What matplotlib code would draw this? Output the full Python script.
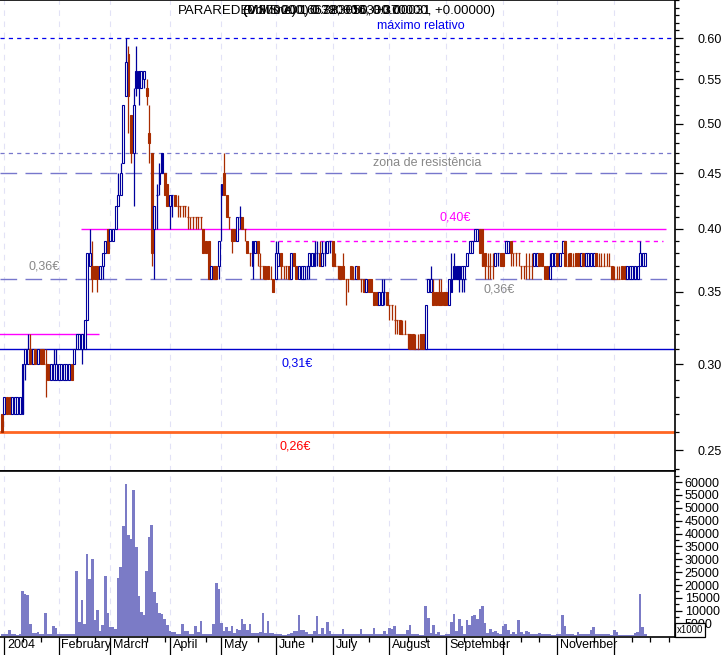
import numpy as np
import matplotlib
matplotlib.use('Agg')
import matplotlib.pyplot as plt
import matplotlib.transforms as mtransforms
from matplotlib.ticker import FixedLocator, NullFormatter

plt.rcParams['font.family'] = ['Liberation Sans', 'DejaVu Sans']
plt.rcParams['lines.scale_dashes'] = False

# daily candles (euro cents), 31 Dec 2003 .. mid Dec 2004
opens = [27, 27, 28, 28, 27, 27, 27, 27, 27, 30, 30, 31, 30, 31, 30, 31, 31, 30, 30, 29,
         29, 29, 29, 29, 29, 29, 29, 30, 30, 31, 31, 31, 31, 33, 37, 37, 37, 37, 36, 37,
         38, 40, 39, 39, 40, 42, 43, 46, 53, 58, 51, 47, 56, 56, 54, 55, 54, 49, 47, 40,
         43, 44, 47, 45, 44, 42, 43, 43, 42, 42, 42, 42, 41, 41, 41, 41, 41, 41, 40, 39,
         39, 36, 37, 37, 37, 43, 45, 43, 41, 40, 40, 39, 41, 41, 40, 39, 38, 37, 38, 39,
         37, 37, 37, 37, 36, 36, 36, 37, 38, 37, 37, 37, 36, 38, 37, 36, 36, 36, 37, 37,
         37, 37, 38, 38, 37, 38, 38, 39, 39, 37, 37, 37, 37, 36, 36, 37, 36, 36, 37, 36,
         36, 35, 36, 36, 35, 35, 34, 34, 35, 35, 34, 34, 33, 33, 33, 32, 32, 32, 32, 32,
         31, 31, 32, 32, 31, 35, 35, 35, 35, 35, 35, 35, 35, 34, 35, 37, 37, 37, 36, 36,
         37, 38, 38, 39, 39, 40, 40, 38, 37, 37, 37, 37, 38, 38, 38, 38, 38, 39, 38, 38,
         38, 37, 37, 37, 37, 37, 37, 37, 38, 38, 37, 37, 36, 37, 37, 38, 37, 38, 39, 37,
         38, 37, 38, 38, 37, 38, 37, 37, 37, 37, 38, 37, 37, 37, 37, 37, 37, 36, 36, 36,
         37, 37, 36, 36, 36, 36, 36, 37, 37, 37]
highs = [27, 28, 28, 28, 28, 28, 28, 28, 30, 31, 32, 32, 31, 31, 31, 31, 31, 31, 30, 30,
         31, 31, 30, 30, 30, 30, 30, 30, 31, 32, 32, 32, 33, 38, 40, 39, 37, 37, 37, 38,
         39, 40, 40, 40, 42, 45, 46, 52, 60, 59, 51, 54, 59, 56, 56, 56, 55, 52, 47, 42,
         44, 46, 47, 45, 44, 43, 43, 43, 43, 42, 42, 42, 42, 41, 41, 41, 41, 41, 40, 39,
         39, 37, 37, 37, 39, 44, 47, 43, 41, 40, 40, 41, 42, 41, 40, 39, 38, 39, 39, 39,
         38, 37, 37, 37, 37, 36, 39, 39, 38, 37, 37, 37, 38, 38, 37, 37, 37, 37, 37, 38,
         38, 39, 39, 39, 39, 39, 39, 39, 39, 38, 37, 37, 38, 36, 36, 37, 37, 37, 37, 36,
         36, 36, 36, 36, 35, 35, 35, 36, 36, 35, 34, 34, 34, 33, 33, 33, 33, 32, 32, 32,
         32, 32, 32, 32, 34, 36, 37, 36, 35, 36, 36, 35, 35, 36, 38, 38, 37, 37, 37, 37,
         38, 39, 39, 40, 40, 40, 40, 38, 38, 38, 38, 38, 38, 38, 38, 39, 39, 39, 38, 38,
         38, 37, 37, 38, 38, 38, 38, 38, 38, 38, 37, 37, 38, 38, 38, 38, 38, 39, 39, 38,
         38, 38, 38, 38, 38, 38, 38, 38, 38, 38, 38, 38, 38, 38, 38, 38, 37, 37, 37, 37,
         37, 37, 37, 37, 37, 37, 37, 39, 38, 38]
lows = [26, 27, 27, 27, 27, 27, 27, 27, 27, 29, 30, 30, 30, 30, 30, 30, 30, 28, 29, 29,
        29, 29, 29, 29, 29, 29, 29, 29, 30, 31, 31, 30, 31, 33, 37, 35, 36, 35, 36, 36,
        38, 38, 39, 39, 40, 42, 43, 46, 53, 49, 46, 42, 53, 52, 54, 54, 52, 46, 37, 36,
        40, 43, 45, 43, 42, 40, 41, 42, 41, 41, 41, 41, 40, 40, 40, 40, 40, 40, 38, 38,
        36, 36, 36, 36, 36, 39, 43, 41, 40, 38, 39, 39, 40, 40, 39, 38, 37, 36, 38, 37,
        36, 36, 36, 36, 36, 35, 36, 37, 36, 36, 36, 36, 36, 37, 36, 36, 36, 36, 36, 36,
        37, 37, 37, 37, 37, 37, 38, 38, 37, 37, 36, 36, 36, 34, 35, 36, 36, 36, 36, 35,
        35, 35, 35, 35, 34, 34, 34, 34, 34, 34, 33, 33, 32, 32, 32, 32, 32, 31, 31, 31,
        31, 31, 31, 31, 31, 35, 35, 34, 34, 34, 34, 34, 34, 34, 35, 36, 36, 35, 35, 35,
        37, 38, 38, 39, 39, 38, 37, 36, 36, 36, 36, 37, 37, 37, 37, 38, 38, 37, 37, 37,
        37, 36, 36, 36, 36, 36, 37, 37, 37, 37, 36, 36, 36, 37, 37, 37, 37, 38, 37, 37,
        37, 37, 37, 37, 37, 37, 37, 37, 37, 37, 37, 37, 37, 37, 37, 37, 36, 36, 36, 36,
        36, 36, 36, 36, 36, 36, 36, 37, 37, 37]
closes = [26, 28, 27, 27, 28, 28, 28, 28, 30, 31, 31, 30, 31, 30, 31, 30, 30, 30, 29, 30,
          30, 30, 30, 30, 30, 30, 30, 29, 31, 32, 32, 32, 33, 38, 38, 36, 36, 36, 37, 38,
          39, 38, 40, 40, 42, 43, 45, 52, 57, 53, 47, 52, 54, 54, 56, 56, 53, 48, 38, 42,
          43, 45, 45, 43, 42, 43, 43, 42, 42, 42, 42, 42, 41, 41, 41, 41, 41, 41, 38, 38,
          36, 37, 36, 36, 39, 44, 43, 41, 41, 39, 39, 41, 41, 40, 40, 38, 38, 39, 39, 38,
          37, 37, 36, 36, 36, 35, 38, 38, 37, 37, 37, 36, 38, 37, 36, 37, 37, 37, 37, 38,
          38, 38, 38, 37, 38, 38, 39, 39, 37, 37, 37, 36, 36, 36, 36, 36, 36, 37, 36, 36,
          35, 36, 35, 35, 34, 34, 35, 35, 35, 34, 34, 34, 33, 33, 32, 32, 32, 32, 31, 31,
          31, 31, 31, 31, 34, 36, 36, 34, 34, 34, 34, 34, 34, 36, 36, 36, 36, 36, 37, 37,
          38, 39, 39, 40, 40, 38, 37, 37, 37, 37, 37, 38, 38, 37, 37, 39, 39, 38, 38, 38,
          38, 37, 37, 37, 37, 37, 38, 38, 37, 37, 36, 36, 37, 38, 38, 37, 38, 39, 37, 37,
          37, 37, 37, 37, 38, 37, 38, 38, 38, 38, 37, 37, 37, 37, 37, 37, 36, 36, 36, 36,
          36, 36, 37, 37, 37, 37, 37, 38, 38, 38]
# volume in x1000 units
volumes = [1000, 1000, 800, 2600, 800, 1000, 600, 900, 17600, 16700, 16100, 4700, 1300, 1500, 1700,
           1000, 900, 9100, 1000, 800, 3900, 3400, 1000, 800, 800, 800, 800, 800, 800, 25500,
           5500, 14300, 4700, 31900, 22500, 30300, 6500, 10400, 2300, 4300, 23400, 9200, 3600, 3600, 3000,
           22800, 27000, 43000, 59200, 39500, 37800, 57000, 34600, 15600, 9500, 8200, 25500, 38800, 43200, 17400,
           13000, 9100, 8900, 6900, 4300, 2300, 1700, 1700, 800, 800, 4700, 2300, 2300, 1000, 1000,
           3900, 1700, 6000, 1000, 1000, 1000, 1000, 4900, 20600, 18600, 5200, 2300, 3600, 2300, 3900,
           1300, 3000, 2600, 6900, 4900, 2600, 4700, 1300, 1300, 1300, 1700, 9200, 1300, 6200, 1300,
           1300, 800, 800, 800, 600, 600, 800, 1300, 2000, 2300, 8200, 2600, 2600, 1700, 800,
           800, 2300, 8000, 800, 3400, 800, 5500, 2300, 1000, 1000, 1000, 1000, 3000, 1000, 800,
           1000, 1000, 1000, 1000, 3000, 1000, 1000, 1000, 1000, 3400, 1000, 1000, 1000, 2300, 800,
           3400, 3000, 3900, 800, 800, 800, 800, 2600, 4300, 1000, 1000, 1000, 400, 400, 11700,
           7300, 1300, 4300, 800, 1700, 400, 400, 800, 800, 5600, 8600, 2300, 6900, 3900, 1000,
           6500, 4300, 7900, 8200, 6900, 10800, 11700, 5200, 1300, 3000, 1700, 2100, 1300, 1000, 3900,
           4900, 2600, 1000, 1700, 1000, 6500, 1700, 1000, 2100, 1700, 1000, 1000, 1000, 1300, 1000,
           1000, 1000, 1000, 400, 400, 800, 800, 8500, 4200, 800, 800, 800, 400, 1700, 1000,
           1000, 800, 800, 2600, 3600, 800, 800, 800, 800, 800, 800, 600, 2700, 1700, 600,
           600, 600, 600, 600, 600, 1400, 1700, 16700, 3600, 800]

# first trading day of each month (index into the arrays above)
month_starts = [1, 22, 42, 65, 85, 106, 128, 150, 172, 194, 215, 237]
month_labels = ['2004', 'February', 'March', 'April', 'May', 'June', 'July',
                'August', 'September', '', 'November', '']

price_ticks = [0.25, 0.30, 0.35, 0.40, 0.45, 0.50, 0.55, 0.60]
vol_ticks = list(range(5000, 60001, 5000))

BLUE = '#00009c'
BROWN = '#a82c00'
GRID = '#e2e2f6'
LAV = '#7777cc'

W, H = 724, 655
fig = plt.figure(figsize=(W / 100, H / 100), dpi=100)
ax = fig.add_axes([0, 1 - 471 / H, 675 / W, 471 / H])
axv = fig.add_axes([0, 1 - 637 / H, 675 / W, 166 / H], sharex=ax)

o = np.array(opens) / 100
hi = np.array(highs) / 100
lo = np.array(lows) / 100
c = np.array(closes) / 100
x = np.arange(len(o))

# colour: compared with previous close (equal keeps previous colour)
up = np.zeros(len(c), bool)
up[0] = c[0] >= o[0]
for k in range(1, len(c)):
    if c[k] > c[k - 1]:
        up[k] = True
    elif c[k] < c[k - 1]:
        up[k] = False
    else:
        up[k] = up[k - 1]
cols = np.where(up, BLUE, BROWN)

bw = 0.75
ax.vlines(x, lo, hi, colors=cols, lw=0.9, zorder=3)
body = o != c
filled = c < o
ax.bar(x[body], np.abs(c - o)[body], bottom=np.minimum(o, c)[body], width=bw,
       color=np.where(filled, cols, 'white')[body], edgecolor=cols[body], lw=0.8, zorder=4)
ax.hlines(c[~body], x[~body] - bw / 2, x[~body] + bw / 2, colors=cols[~body], lw=0.9, zorder=4)

ax.set_yscale('log')
ax.set_ylim(0.2392, 0.6505)
ax.set_xlim(-0.716, 260.5)

# support / resistance lines
ax.axhline(0.60, color='#0000ee', lw=0.9, ls=(0, (3, 3)), zorder=2)
ax.axhline(0.47, color=LAV, lw=0.9, ls=(0, (3, 3)), zorder=2)
ax.axhline(0.45, color=LAV, lw=1.0, ls=(0, (12, 6)), zorder=2)
ax.axhline(0.36, color=LAV, lw=1.0, ls=(0, (12, 6)), zorder=2)
ax.axhline(0.31, color='#0000cc', lw=1.0, zorder=2)
ax.axhline(0.26, color='#ff6622', lw=2.0, zorder=2)
ax.hlines(0.40, 30.6, 257, color='#ff00ff', lw=1.0, zorder=2)
ax.hlines(0.39, 103.8, 256, color='#ff00ff', lw=1.0, ls=(0, (3, 3)), zorder=2)
ax.hlines(0.32, -1, 37.6, color='#ff00ff', lw=1.0, zorder=2)

tk = dict(fontsize=9, ha='center', va='center')
ax.text(16.3, 0.3697, '0,36€', color='#888888', **tk)
ax.text(114.2, 0.3003, '0,31€', color='#0000ee', **tk)
ax.text(113.5, 0.2522, '0,26€', color='#ff0000', **tk)
ax.text(175.4, 0.4102, '0,40€', color='#ff00ff', **tk)
ax.text(192.4, 0.352, '0,36€', color='#888888', **tk)
ax.text(162.2, 0.6155, 'máximo relativo', color='#0000ee', **tk)
ax.text(164.5, 0.460, 'zona de resistência', color='#888888', **tk)

# month grid on both panels
for a in (ax, axv):
    for m in month_starts:
        a.axvline(m, color=GRID, lw=0.8, ls=(0, (4, 4)), zorder=1)
    a.spines['left'].set_visible(False)

ax.yaxis.tick_right()
ax.yaxis.set_major_locator(FixedLocator(price_ticks))
ax.yaxis.set_minor_locator(FixedLocator(np.round(np.arange(0.24, 0.655, 0.01), 2)))
ax.yaxis.set_major_formatter(plt.FuncFormatter(lambda v, p: f'{v:.2f}'))
ax.yaxis.set_minor_formatter(NullFormatter())
ax.tick_params(axis='y', which='major', direction='out', length=6, width=0.9, pad=10, labelsize=9)
ax.tick_params(axis='y', which='minor', direction='out', length=3, width=0.9)
ax.tick_params(axis='x', which='both', bottom=False, labelbottom=False)
for s in ('top', 'right', 'bottom'):
    ax.spines[s].set_linewidth(1.2)

# volume
axv.bar(x, volumes, width=1.0, color='#7b7bc6', lw=0, zorder=3)
axv.set_ylim(-200, 64300)
axv.yaxis.tick_right()
axv.yaxis.set_major_locator(FixedLocator(vol_ticks))
axv.yaxis.set_minor_locator(FixedLocator(list(range(2500, 64000, 2500))))
axv.tick_params(axis='y', which='major', direction='out', length=5, width=0.9, pad=2, labelsize=9)
axv.tick_params(axis='y', which='minor', direction='out', length=3, width=0.9)
for s in ('top', 'right', 'bottom'):
    axv.spines[s].set_linewidth(1.2)

minor_x = []
bounds = month_starts + [261]
for a0, a1 in zip(bounds[:-1], bounds[1:]):
    k = a0 + 7
    while k < a1 - 1:
        minor_x.append(k)
        k += 7
axv.set_xticks(month_starts)
axv.set_xticklabels(month_labels)
axv.set_xticks(minor_x, minor=True)
axv.tick_params(axis='x', which='major', direction='out', length=13, width=0.9, pad=-11.5, labelsize=9)
axv.tick_params(axis='x', which='minor', direction='out', length=3.5, width=0.9)
off = mtransforms.ScaledTranslation(2 / 72, 0, fig.dpi_scale_trans)
for lbl in axv.get_xticklabels():
    lbl.set_ha('left')
    lbl.set_transform(lbl.get_transform() + off)

fig.text(677 / W, 1 - 630 / H, 'x1000', fontsize=7, ha='left', va='center',
         bbox=dict(facecolor='white', edgecolor='black', lw=0.9, pad=1.2))

# title: the charting software prints several legends on top of each other
ty = 1 - 11 / H
fig.text(178 / W, ty, 'PARAREDE', fontsize=9.5, va='center')
for s in ['(0.370000, 0.380000, 0.370000, +0.00000)',
          '(MMS 200) 0.383050, +0.00031',
          '(Volume) 16672, +16300.0']:
    fig.text(243 / W, ty, s, fontsize=9.5, va='center')

fig.savefig('out.png', dpi=100)
